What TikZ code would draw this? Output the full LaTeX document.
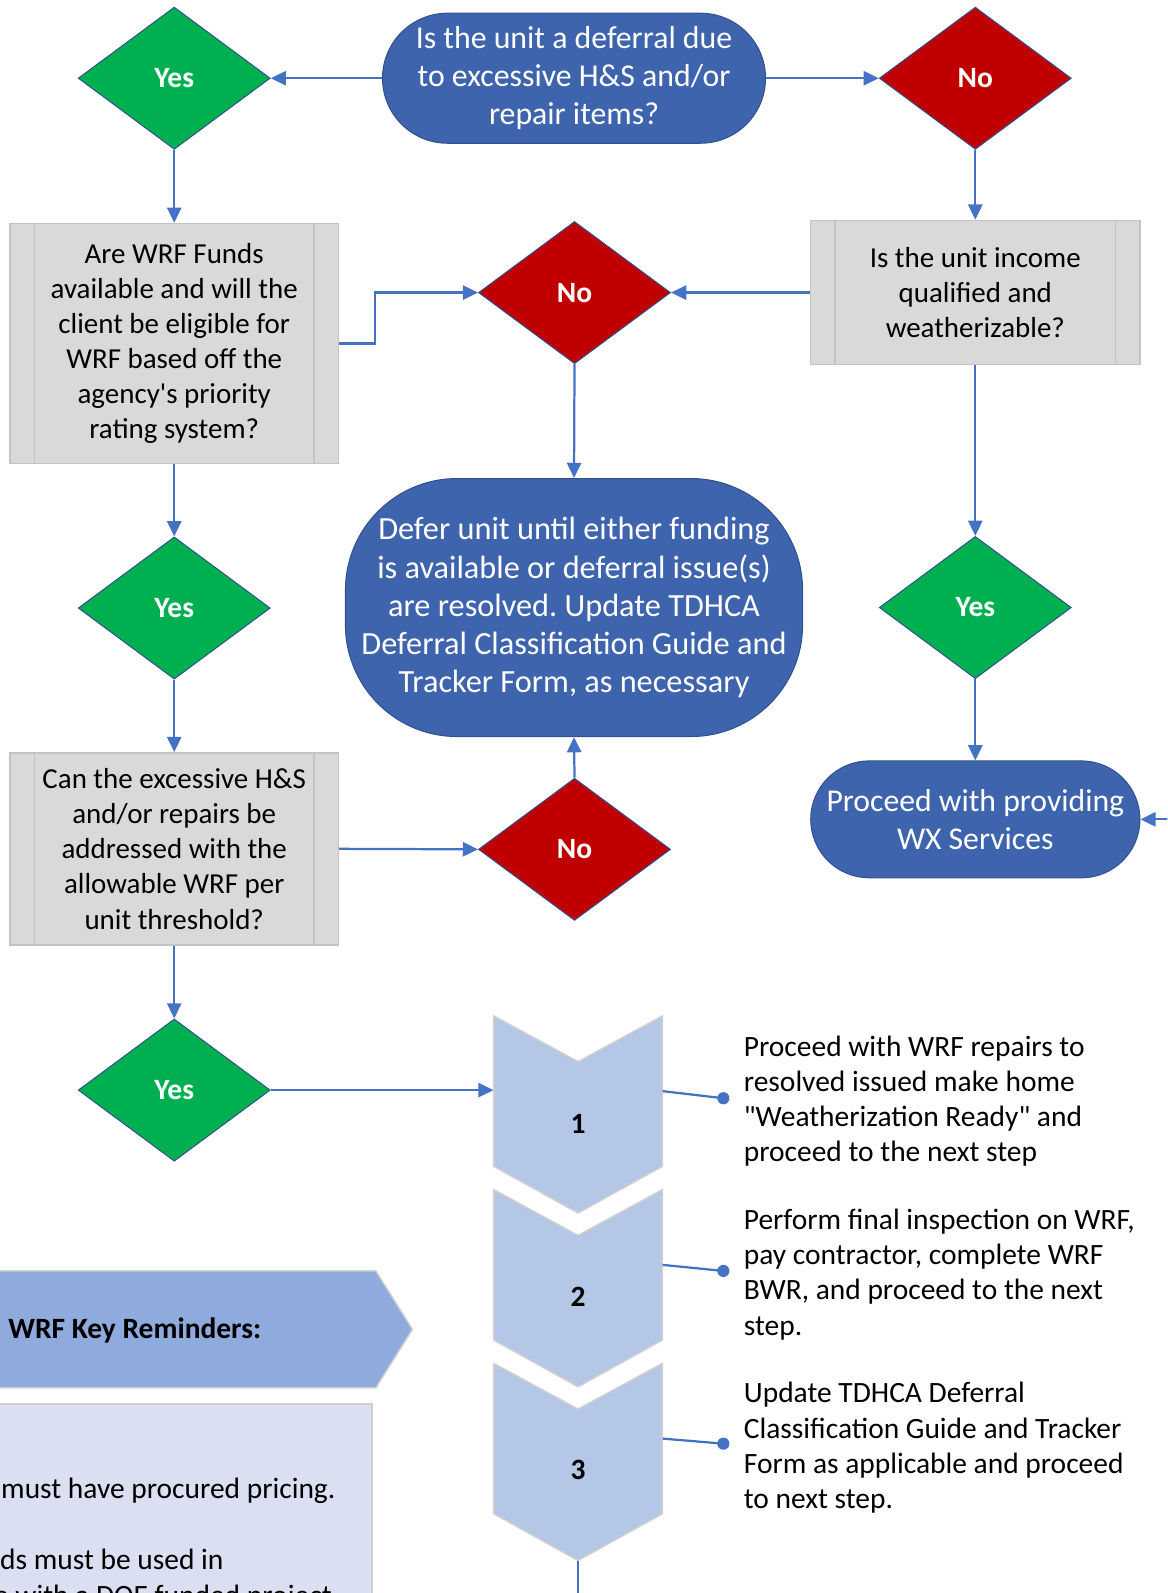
\documentclass[tikz,border=0pt]{standalone}
\usepackage{fontspec}
\setmainfont{Carlito}[Ligatures=TeXOff]
\frenchspacing
\usetikzlibrary{shapes.geometric,arrows.meta}
\definecolor{termblue}{HTML}{3F64AE}
\definecolor{termedge}{HTML}{2F528F}
\definecolor{arrblue}{HTML}{4472C4}
\definecolor{yesgreen}{HTML}{00B050}
\definecolor{nored}{HTML}{C00000}
\definecolor{boxgray}{HTML}{D9D9D9}
\definecolor{boxedge}{HTML}{C3C3C3}
\definecolor{chevfill}{HTML}{B4C7E7}
\definecolor{chevedge}{HTML}{D0D0D0}
\definecolor{pentfill}{HTML}{8FAADC}
\definecolor{notefill}{HTML}{DAE0F2}
\begin{document}
\begin{tikzpicture}[x=1pt,y=-1pt,
 term/.style={draw=termedge, line width=1pt, fill=termblue, text=white, align=center, inner sep=0},
 dec/.style={diamond, draw=termedge, line width=1pt, inner sep=0, minimum width=189pt, minimum height=140pt, text=white, font=\fontsize{29}{32}\selectfont\bfseries},
 yesd/.style={dec, fill=yesgreen},
 nod/.style={dec, fill=nored},
 proc/.style={rectangle, draw=boxedge, line width=1.5pt, fill=boxgray, align=center, inner sep=0,
   font=\fontsize{28.5}{34.6}\selectfont,
   path picture={\draw[boxedge, line width=1.5pt]
     ([xshift=24pt]path picture bounding box.north west) -- ([xshift=24pt]path picture bounding box.south west)
     ([xshift=-24pt]path picture bounding box.north east) -- ([xshift=-24pt]path picture bounding box.south east);}},
 arr/.style={draw=arrblue, line width=2.2pt, -{Triangle[length=15pt,width=14pt]}},
 link/.style={draw=arrblue, line width=2.2pt},
 chev/.style={fill=chevfill, draw=chevedge, line width=1.5pt},
 chevbox/.style={inner sep=0, minimum width=166pt, minimum height=148pt},
 num/.style={font=\fontsize{29}{32}\selectfont\bfseries, inner sep=0},
 steptext/.style={anchor=west, align=left, font=\fontsize{29}{34.6}\selectfont, inner sep=0},
 notetext/.style={anchor=base west, font=\fontsize{29}{34.6}\selectfont, inner sep=0},
]
\path[use as bounding box, clip] (0,0) rectangle (1149,1568);

% top row
\node[term, rounded corners=64pt, minimum width=377pt, minimum height=128pt, font=\fontsize{31.3}{37.5}\selectfont] (top) at (565,77) {Is the unit a deferral due\\to excessive H\&S and/or\\repair items?};
\node[yesd] (yes0) at (171.5,77) {Yes};
\node[nod] (no0) at (960,77) {No};

% second row
\node[proc, minimum width=323pt, minimum height=236pt] (b1) at (171.5,338) {Are WRF Funds\\available and will the\\client be eligible for\\WRF based off the\\agency's priority\\rating system?};
\node[proc, minimum width=324pt, minimum height=142pt] (b2) at (960,288) {Is the unit income\\qualified and\\weatherizable?};
\node[nod] (no1) at (565.5,288) {No};

% defer
\node[term, rounded corners=110pt, minimum width=450pt, minimum height=254pt, font=\fontsize{31.8}{37.5}\selectfont] (defer) at (565,598) {Defer unit until either funding\\is available or deferral issue(s)\\are resolved. Update TDHCA\\Deferral Classification Guide and\\Tracker Form, as necessary};

\node[yesd] (yes1) at (960,598) {Yes};
\node[term, rounded corners=57.5pt, minimum width=324pt, minimum height=115pt, font=\fontsize{31.2}{37.5}\selectfont] (proceed) at (960,806.5) {Proceed with providing\\WX Services};

\node[yesd] (yes2) at (171.5,598.5) {Yes};
\node[proc, minimum width=323pt, minimum height=189pt] (b3) at (171.5,835.5) {Can the excessive H\&S\\and/or repairs be\\addressed with the\\allowable WRF per\\unit threshold?};
\node[nod] (no2) at (565.5,836) {No};
\node[yesd] (yes3) at (171.5,1073) {Yes};

% chevrons
\foreach \t in {1000,1171,1342}{
  \path[chev] (486,\t) -- (569,\t+45) -- (652,\t) -- (652,\t+148) -- (569,\t+194) -- (486,\t+148) -- cycle;
}
\node[chevbox] (ch1) at (569,1074) {};
\node[chevbox] (ch2) at (569,1245) {};
\node[chevbox] (ch3) at (569,1416) {};
\node[num] (n1) at (569,1106) {1};
\node[num] (n2) at (569,1276) {2};
\node[num] (n3) at (569,1447) {3};

\coordinate (d1) at (712,1081);
\coordinate (d2) at (712,1251);
\coordinate (d3) at (712,1421);
\coordinate (tip3) at (569,1536);
\coordinate (offB) at (569,1580);
\coordinate (offR) at (1160,806.5);

\node[steptext] (s1) at (732,1084) {Proceed with WRF repairs to\\resolved issued make home\\"Weatherization Ready" and\\proceed to the next step};
\node[steptext] (s2) at (732,1254.5) {Perform final inspection on WRF,\\pay contractor, complete WRF\\BWR, and proceed to the next\\step.};
\node[steptext] (s3) at (732,1425) {Update TDHCA Deferral\\Classification Guide and Tracker\\Form as applicable and proceed\\to next step.};

% reminders
\path[fill=pentfill, draw=chevedge, line width=1.5pt] (-5,1251) -- (370,1251) -- (406,1308.5) -- (370,1366) -- (-5,1366) -- cycle;
\node[anchor=west, inner sep=0, font=\fontsize{29}{32}\selectfont\bfseries] (wrf) at (8,1310) {WRF Key Reminders:};
\path[fill=notefill, draw=chevedge, line width=1.5pt] (-5,1382) rectangle (366,1620);
\node[notetext] (r1) at (1,1475) {must have procured pricing.};
\node[notetext] (r2) at (0,1545) {ds must be used in};
\node[notetext] (r3) at (-6,1580) {e with a DOE funded project};

% connectors
\draw[arr] (top.west) -- (yes0.east);
\draw[arr] (top.east) -- (no0.west);
\draw[arr] (yes0.south) -- (b1.north);
\draw[arr] (no0.south) -- (b2.north);
\draw[arr] (b2.west) -- (no1.east);
\draw[arr] (b1.east) -- ++(35,0) |- (no1.west);
\draw[arr] (no1.south) -- (defer.north);
\draw[arr] (b2.south) -- (yes1.north);
\draw[arr] (yes1.south) -- (proceed.north);
\draw[arr] (offR) -- (proceed.east);
\draw[arr] (b1.south) -- (yes2.north);
\draw[arr] (yes2.south) -- (b3.north);
\draw[arr] (b3.east) -- (no2.west);
\draw[arr] (no2.north) -- (defer.south);
\draw[arr] (b3.south) -- (yes3.north);
\draw[arr] (yes3.east) -- (yes3.east -| ch1.west);
\draw[link] (ch1.east) -- (d1);
\draw[link] (ch2.east) -- (d2);
\draw[link] (ch3.east) -- (d3);
\fill[arrblue] (d1) circle (6pt) (d2) circle (6pt) (d3) circle (6pt);
\draw[link] (tip3) -- (offB);
\end{tikzpicture}
\end{document}
